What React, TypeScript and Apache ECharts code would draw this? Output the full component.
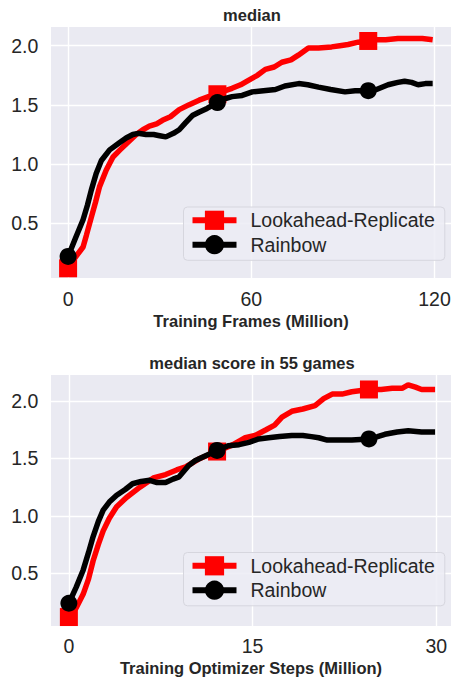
import React, { useEffect, useRef } from "react";
import * as echarts from "echarts";

const seriesNames = ["Lookahead-Replicate", "Rainbow"];
const titles = ["median", "median score in 55 games"];
const xAxisNames = ["Training Frames (Million)", "Training Optimizer Steps (Million)"];

// Top chart (Training Frames)
const topRedX = [0, 2, 4.9, 6, 7.6, 9, 10.3, 12.5, 14.7, 17, 19, 22.3, 24.5, 26.6, 29, 30.9, 33.5, 36.4, 39.5, 42.9, 46, 48.9, 51.5, 53.7, 56.5, 59.2, 62, 64.6, 67.5, 70, 73, 75.4, 78.7, 82, 86.3, 89, 91.7, 95, 98.3, 101, 104, 108, 112, 116, 119.4];
const topRedY = [0.12, 0.2, 0.3, 0.4, 0.55, 0.68, 0.81, 0.95, 1.06, 1.12, 1.17, 1.25, 1.29, 1.32, 1.34, 1.37, 1.4, 1.46, 1.5, 1.54, 1.57, 1.59, 1.62, 1.64, 1.67, 1.71, 1.75, 1.8, 1.82, 1.86, 1.88, 1.92, 1.98, 1.98, 1.99, 2.0, 2.01, 2.03, 2.04, 2.05, 2.05, 2.06, 2.06, 2.06, 2.05];
const topBlackX = [0, 2.5, 4.9, 6.3, 7.6, 9.2, 10.9, 13.6, 16.8, 19, 21.2, 23, 25.5, 28, 30, 32, 34.5, 36.4, 38.5, 40.7, 43, 45.5, 48.9, 51, 53.7, 57, 60.3, 64, 67.9, 71, 75.5, 78.5, 82, 86, 90.7, 94, 98.3, 101, 104.8, 108, 110.2, 112.5, 114.6, 117, 119.4];
const topBlackY = [0.22, 0.38, 0.53, 0.65, 0.78, 0.92, 1.03, 1.12, 1.18, 1.22, 1.25, 1.26, 1.25, 1.25, 1.24, 1.23, 1.26, 1.29, 1.35, 1.41, 1.44, 1.47, 1.52, 1.55, 1.57, 1.58, 1.61, 1.62, 1.63, 1.66, 1.68, 1.67, 1.65, 1.63, 1.61, 1.62, 1.62, 1.63, 1.67, 1.69, 1.7, 1.69, 1.67, 1.68, 1.68];
const topMarkerX = [0, 48.9, 98.3];
const topXTicks = [0, 60, 120];

// Bottom chart (Training Optimizer Steps)
const botRedX = [0, 0.6, 1.17, 1.6, 1.98, 2.4, 2.8, 3.3, 3.9, 4.7, 5.8, 6.9, 7.9, 8.8, 9.6, 10.7, 12.1, 13.4, 14.4, 15.2, 16.1, 16.8, 17.4, 18.2, 19.1, 20.1, 20.8, 21.5, 22.3, 23.1, 24.5, 25.5, 26.4, 27.2, 27.7, 28.3, 28.8, 29.9];
const botRedY = [0.12, 0.2, 0.32, 0.45, 0.61, 0.75, 0.87, 0.98, 1.08, 1.16, 1.25, 1.33, 1.36, 1.4, 1.43, 1.5, 1.56, 1.62, 1.68, 1.7, 1.75, 1.79, 1.86, 1.91, 1.93, 1.96, 2.02, 2.06, 2.06, 2.08, 2.1, 2.1, 2.11, 2.11, 2.14, 2.12, 2.1, 2.1];
const botBlackX = [0, 0.6, 1.17, 1.6, 1.98, 2.4, 2.8, 3.3, 3.9, 4.6, 5.2, 5.9, 6.6, 7.2, 7.9, 8.5, 9.0, 9.8, 10.3, 10.9, 12.1, 13.0, 13.9, 14.7, 15.5, 16.3, 17.2, 18.2, 19.1, 19.8, 20.4, 21.1, 21.8, 23.1, 24.5, 25.2, 25.8, 26.8, 27.7, 28.8, 29.9];
const botBlackY = [0.24, 0.38, 0.53, 0.68, 0.82, 0.95, 1.05, 1.12, 1.18, 1.23, 1.28, 1.3, 1.31, 1.29, 1.29, 1.32, 1.34, 1.44, 1.48, 1.51, 1.57, 1.61, 1.62, 1.64, 1.67, 1.68, 1.69, 1.7, 1.7, 1.69, 1.68, 1.66, 1.66, 1.66, 1.67, 1.69, 1.71, 1.73, 1.74, 1.73, 1.73];
const botMarkerX = [0, 12.1, 24.5];
const botXTicks = [0, 15, 30];

const yTicks = [0.5, 1.0, 1.5, 2.0];

const FONT = '"Liberation Sans", Arial, sans-serif';
const TXT = "#262626";
const BG = "#EAEAF2";
const RED = "#ff0000";
const BLACK = "#000000";
const LW = 5.5;

function toData(xs: number[], ys: number[], markers: number[]) {
  return xs.map((x, i) => {
    const item: any = { value: [x, ys[i]] };
    if (!markers.includes(x)) item.symbol = "none";
    return item;
  });
}

function isTick(v: number, ticks: number[]) {
  return ticks.some((t) => Math.abs(v - t) < 1e-6);
}

export default function App() {
  const ref = useRef<HTMLDivElement>(null);
  useEffect(() => {
    if (!ref.current) return;
    const chart = echarts.init(ref.current, undefined, { renderer: "svg" });
    const grids = [
      { left: 51, width: 402, top: 27, height: 251 },
      { left: 51, width: 402, top: 375, height: 252 },
    ];
    const xRanges = [
      [-5.6, 125.4, 60, topXTicks],
      [-1.46, 31.2, 15, botXTicks],
    ] as any[];
    const yRanges = [
      [0.038, 2.158],
      [0.042, 2.226],
    ];
    const legendTops = [207, 552.5];
    const titleTops = [6, 354];

    const legendCommon = (top: number) => ({
      orient: "vertical",
      left: 183.5,
      top,
      itemWidth: 44,
      itemHeight: 24,
      itemGap: 4.4,
      padding: [3.3, 10, 5.6, 6],
      backgroundColor: "rgba(236,236,244,0.85)",
      borderColor: "#d6d6de",
      borderWidth: 1,
      borderRadius: 4,
      selectedMode: false,
      data: seriesNames,
      lineStyle: { width: 6 },
      textStyle: { fontSize: 19.5, color: TXT, fontFamily: FONT, padding: [0, 0, 0, 9] },
    });

    const option: any = {
      animation: false,
      backgroundColor: "#ffffff",
      title: titles.map((t, i) => ({
        text: t,
        left: 252,
        top: titleTops[i],
        padding: 0,
        textAlign: "center",
        textStyle: { fontSize: 16.5, fontWeight: "bold", color: TXT, fontFamily: FONT },
      })),
      legend: legendTops.map((t) => legendCommon(t)),
      grid: grids.map((g) => ({ ...g, show: true, backgroundColor: BG, borderWidth: 0, containLabel: false })),
      xAxis: xRanges.map((r, i) => ({
        type: "value",
        gridIndex: i,
        min: r[0],
        max: r[1],
        minInterval: r[2],
        maxInterval: r[2],
        name: xAxisNames[i],
        nameLocation: "middle",
        nameGap: i === 0 ? 34 : 33,
        nameTextStyle: { fontSize: 16.5, fontWeight: "bold", color: TXT, fontFamily: FONT },
        axisLine: { show: false },
        axisTick: { show: false },
        axisLabel: {
          fontSize: 19.5,
          color: TXT,
          fontFamily: FONT,
          margin: i === 0 ? 11 : 10,
          showMinLabel: true,
          showMaxLabel: true,
          formatter: (v: number) => (isTick(v, r[3]) ? String(Math.round(v)) : ""),
        },
        splitLine: { show: true, showMinLine: false, showMaxLine: false, lineStyle: { color: "#ffffff", width: 1.4 } },
      })),
      yAxis: yRanges.map((r, i) => ({
        type: "value",
        gridIndex: i,
        min: r[0],
        max: r[1],
        minInterval: 0.5,
        maxInterval: 0.5,
        axisLine: { show: false },
        axisTick: { show: false },
        axisLabel: {
          fontSize: 19.5,
          color: TXT,
          fontFamily: FONT,
          margin: 12.7,
          formatter: (v: number) => (isTick(v, yTicks) ? v.toFixed(1) : ""),
        },
        splitLine: { show: true, showMinLine: false, showMaxLine: false, lineStyle: { color: "#ffffff", width: 1.4 } },
      })),
      series: [
        {
          type: "line",
          name: seriesNames[0],
          xAxisIndex: 0,
          yAxisIndex: 0,
          data: toData(topRedX, topRedY, topMarkerX),
          symbol: "rect",
          symbolSize: 18,
          color: RED,
          lineStyle: { width: LW, color: RED },
          itemStyle: { color: RED },
          z: 2,
          silent: true,
        },
        {
          type: "line",
          name: seriesNames[1],
          xAxisIndex: 0,
          yAxisIndex: 0,
          data: toData(topBlackX, topBlackY, topMarkerX),
          symbol: "circle",
          symbolSize: 17,
          color: BLACK,
          lineStyle: { width: LW, color: BLACK },
          itemStyle: { color: BLACK },
          z: 3,
          silent: true,
        },
        {
          type: "line",
          name: seriesNames[0],
          xAxisIndex: 1,
          yAxisIndex: 1,
          data: toData(botRedX, botRedY, botMarkerX),
          symbol: "rect",
          symbolSize: 18,
          color: RED,
          lineStyle: { width: LW, color: RED },
          itemStyle: { color: RED },
          z: 2,
          silent: true,
        },
        {
          type: "line",
          name: seriesNames[1],
          xAxisIndex: 1,
          yAxisIndex: 1,
          data: toData(botBlackX, botBlackY, botMarkerX),
          symbol: "circle",
          symbolSize: 17,
          color: BLACK,
          lineStyle: { width: LW, color: BLACK },
          itemStyle: { color: BLACK },
          z: 3,
          silent: true,
        },
      ],
    };
    chart.setOption(option);
    return () => chart.dispose();
  }, []);
  return (
    <div
      ref={ref}
      style={{ position: "fixed", left: 0, top: 0, width: 454, height: 677 }}
    />
  );
}
